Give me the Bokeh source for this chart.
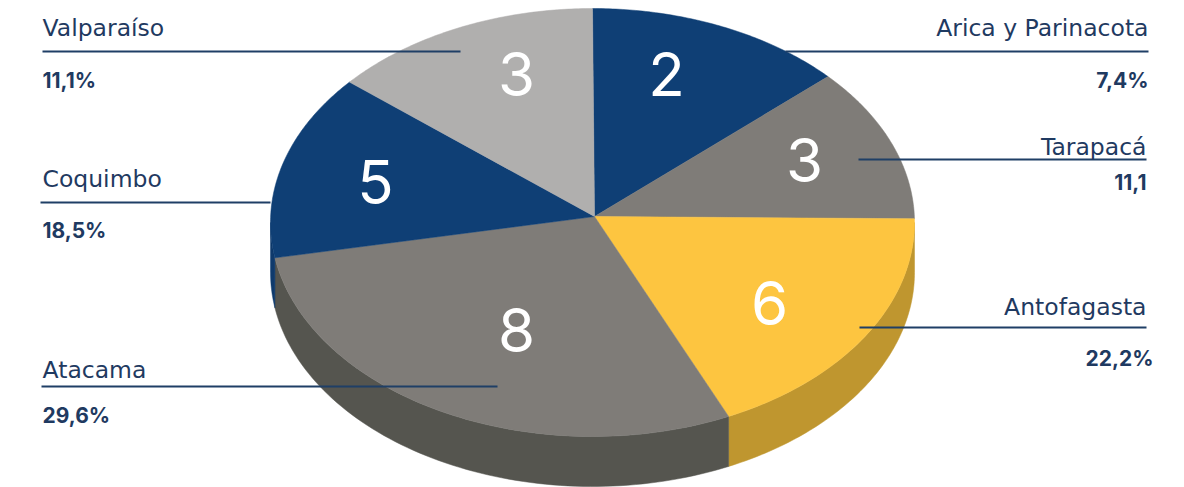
import numpy as np
from bokeh.plotting import figure
from bokeh.models import Range1d, ColumnDataSource
from bokeh.core.properties import value
from bokeh.embed import file_html
from bokeh.resources import INLINE

# ---- data ----
regions = ["Arica y Parinacota", "Tarapacá", "Antofagasta", "Atacama", "Coquimbo", "Valparaíso"]
counts = [2, 3, 6, 8, 5, 3]
percent_labels = ["7,4%", "11,1", "22,2%", "29,6%", "18,5%", "11,1%"]
# share of the ellipse each slice takes in the picture (degrees, read from it)
drawn_degrees = [47, 42, 66, 105.5, 50.5, 49]

# ---- style ----
top_colors = ["#0f3f75", "#7f7c78", "#fdc540", "#7f7c78", "#0f3f75", "#b0afae"]
side_colors = ["#0b2f59", "#55554f", "#bf962f", "#55554f", "#0f3a6c", "#808080"]
TEXT = "#1f3a61"
LINE = "#1f3f66"

# ---- layout (page pixels of the 1184x487 picture) ----
APEX = (594, 216)
CX, CY, RX, RY, DEPTH = 592, 222, 322, 214, 50
line_x0 = [785, 858, 859, 41, 40, 42]
line_x1 = [1148, 1146, 1146, 497, 270, 460]
line_y = [51, 159, 327, 386, 202, 51]
name_x = [1148, 1146, 1146, 42, 42, 42]
name_y = [27, 146, 306, 369, 178, 27]
pct_x = [1148, 1146, 1153, 42, 42, 42]
pct_y = [80, 181, 358, 415, 230, 80]
align = ["right", "right", "right", "left", "left", "left"]
num_x = [666, 804, 769, 516, 375, 516]
num_y = [73, 159, 302, 329, 181, 73]

p = figure(width=1184, height=487, output_backend="svg", toolbar_location=None,
           x_range=Range1d(0, 1184), y_range=Range1d(487, 0),
           min_border=0, outline_line_color=None, background_fill_color="white")
p.axis.visible = False
p.grid.visible = False


def rim(a, b):
    t = np.radians(np.linspace(a, b, 80))
    return CX + RX * np.sin(t), CY - RY * np.cos(t)


edges = np.concatenate([[0], np.cumsum(drawn_degrees)])

# side wall: only the part of each slice facing the viewer (90..270 deg)
for i in range(len(regions)):
    a, b = max(edges[i], 90), min(edges[i + 1], 270)
    if a >= b:
        continue
    x, y = rim(a, b)
    p.patch(np.r_[x, x[::-1]], np.r_[y, y[::-1] + DEPTH],
            fill_color=side_colors[i], line_color=side_colors[i], line_width=0.5)

# top face
for i in range(len(regions)):
    x, y = rim(edges[i], edges[i + 1])
    p.patch(np.r_[APEX[0], x], np.r_[APEX[1], y],
            fill_color=top_colors[i], line_color=top_colors[i], line_width=0.5)

p.segment(line_x0, line_y, line_x1, line_y, line_color=LINE, line_width=2)

src = ColumnDataSource(dict(name=regions, pct=percent_labels, count=[str(c) for c in counts],
                            nx=name_x, ny=name_y, px=pct_x, py=pct_y, a=align, cx=num_x, cy=num_y))
p.text("nx", "ny", text="name", source=src, text_align="a", text_baseline="middle",
       text_font=value("DejaVu Sans"), text_font_size="23.5px", text_color=TEXT)
p.text("px", "py", text="pct", source=src, text_align="a", text_baseline="middle",
       text_font=value("Inter"), text_font_size="21px", text_font_style="bold", text_color=TEXT)
p.text("cx", "cy", text="count", source=src, text_align="center", text_baseline="middle",
       text_font=value("Inter"), text_font_size="60px", text_color="#ffffff")

open("out.html", "w").write(file_html(p, INLINE))
